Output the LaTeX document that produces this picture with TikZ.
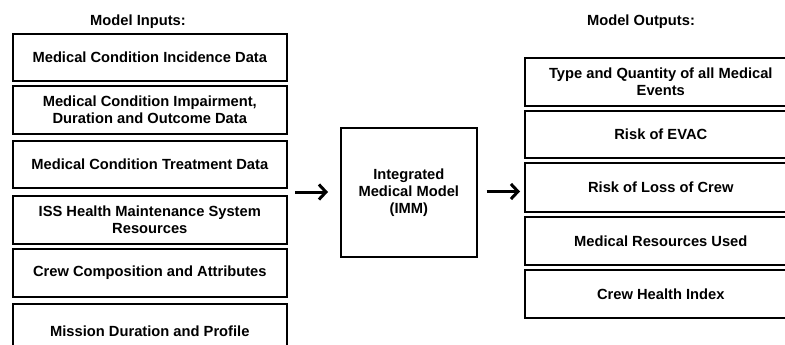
\documentclass[tikz,border=0pt]{standalone}
\usepackage{fontspec}
\setmainfont{Liberation Sans}
\usetikzlibrary{arrows.meta}
\begin{document}
\begin{tikzpicture}[x=1pt,y=-1pt,
  box/.style={draw=black, line width=1.6pt, fill=white, align=center, inner sep=0pt,
    anchor=north west, font=\bfseries\fontsize{14.7}{17}\selectfont},
  title/.style={font=\bfseries\fontsize{14.7}{17}\selectfont, inner sep=0pt},
  arr/.style={line width=3pt, -{Straight Barb[length=7pt,width=15pt,line width=3pt]}}
]
\useasboundingbox (0,0) rectangle (785,345);
\clip (0,0) rectangle (785,345);
% titles
\node[title] (tin) at (138,22) {Model Inputs:};
\node[title] (tout) at (641,22) {Model Outputs:};
% inputs
\node[box, minimum width=274pt, minimum height=47pt] (i1) at (12,33) {Medical Condition Incidence Data};
\node[box, minimum width=274pt, minimum height=48pt] (i2) at (12,85) {Medical Condition Impairment,\\Duration and Outcome Data};
\node[box, minimum width=274pt, minimum height=47pt] (i3) at (12,140) {Medical Condition Treatment Data};
\node[box, minimum width=274pt, minimum height=48pt] (i4) at (12,195) {ISS Health Maintenance System\\Resources};
\node[box, minimum width=274pt, minimum height=48pt] (i5) at (12,248) {Crew Composition and Attributes};
\node[box, minimum width=274pt, minimum height=54pt] (i6) at (12,303) {Mission Duration and Profile};
% model
\node[box, minimum width=136pt, minimum height=129pt] (imm) at (340,127) {Integrated\\Medical Model\\(IMM)};
% outputs
\node[box, minimum width=272pt, minimum height=48pt] (o1) at (524,57) {Type and Quantity of all Medical\\Events};
\node[box, minimum width=272pt, minimum height=47pt] (o2) at (524,110) {Risk of EVAC};
\node[box, minimum width=272pt, minimum height=49pt] (o3) at (524,162) {Risk of Loss of Crew};
\node[box, minimum width=272pt, minimum height=48pt] (o4) at (524,216) {Medical Resources Used};
\node[box, minimum width=272pt, minimum height=48pt] (o5) at (524,269) {Crew Health Index};
% arrows
\coordinate (ain) at (295,192);
\coordinate (aout) at (524,191.5);
\draw[arr, shorten >=12pt] (ain) -- (imm.west |- ain);
\draw[arr, shorten <=9pt, shorten >=4pt] (imm.east |- aout) -- (aout);
\end{tikzpicture}
\end{document}
